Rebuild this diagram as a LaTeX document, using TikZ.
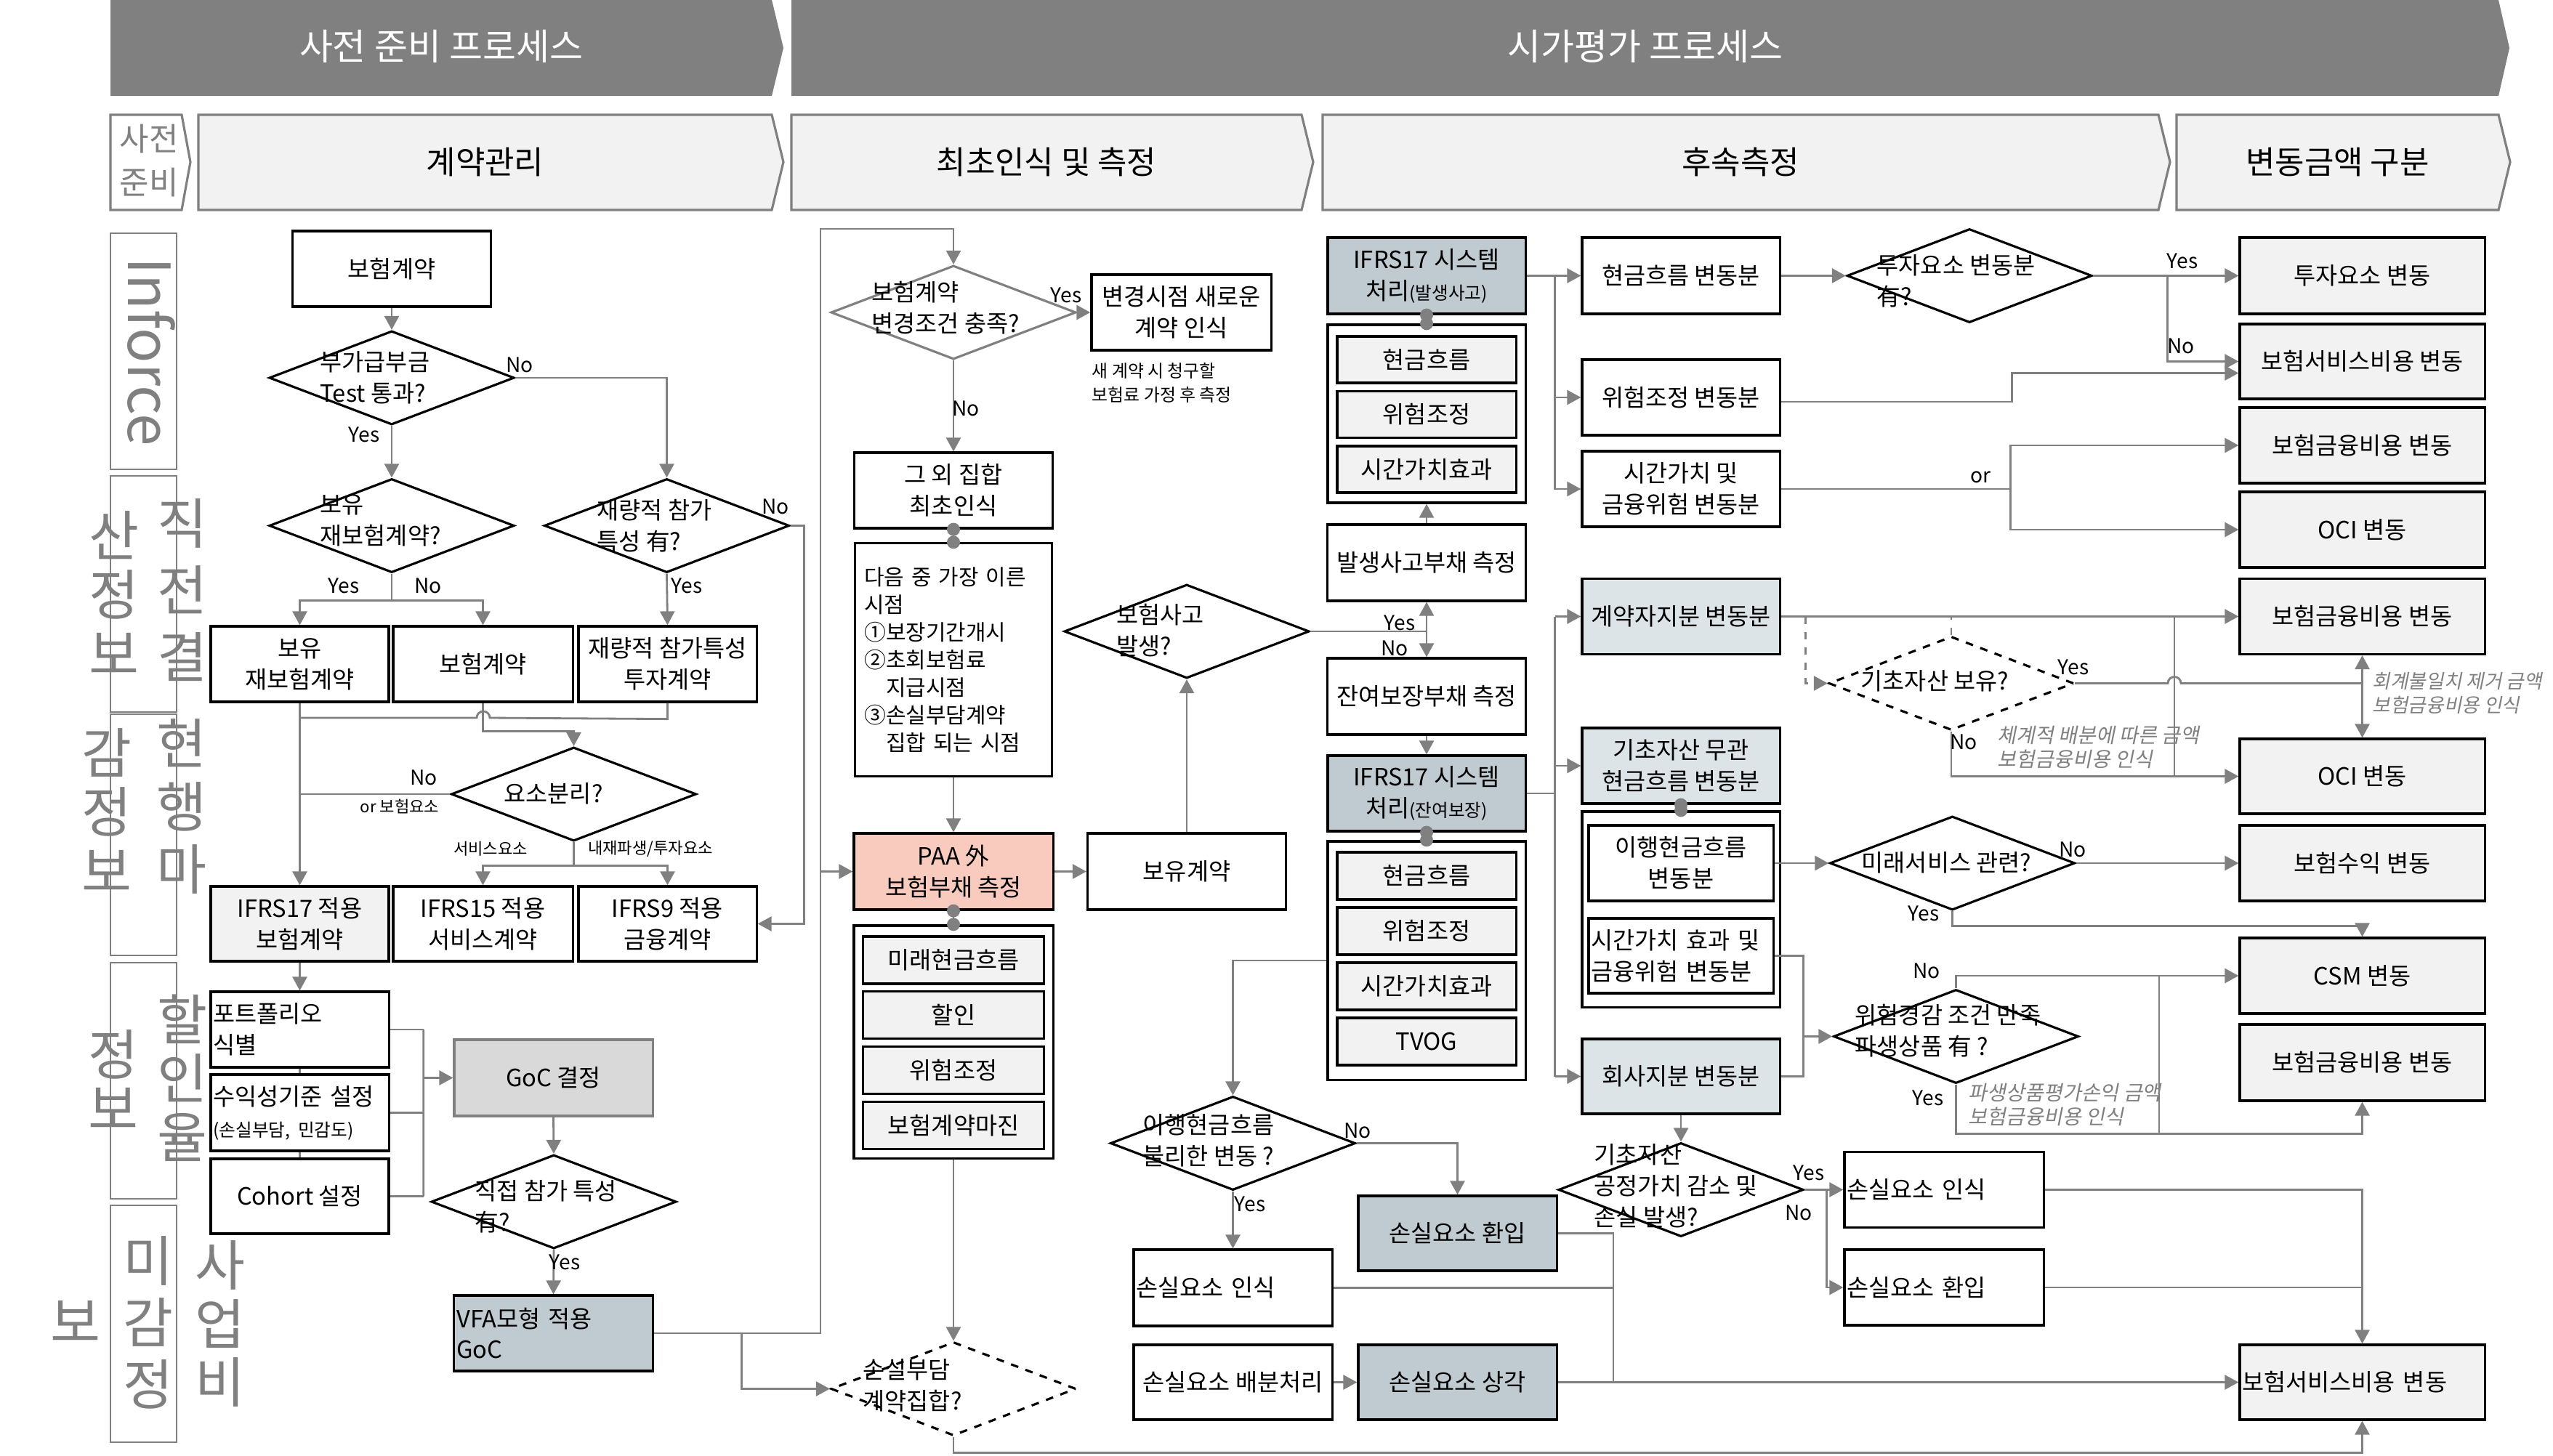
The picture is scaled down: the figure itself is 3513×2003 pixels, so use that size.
\documentclass[tikz,border=0pt]{standalone}
\usepackage{fontspec}
\setmainfont{Noto Sans CJK KR}
\newfontfamily\slkr[FakeSlant=0.2]{Noto Sans CJK KR}
\usetikzlibrary{shapes.geometric,arrows.meta,calc}
\definecolor{lnGray}{RGB}{128,128,128}
\definecolor{fillLt}{RGB}{242,242,242}
\definecolor{fillGoC}{RGB}{217,217,217}
\definecolor{fillBG}{RGB}{191,202,209}
\definecolor{fillLB}{RGB}{221,228,232}
\definecolor{fillPAA}{RGB}{248,203,190}
\newcommand{\fmain}{\fontsize{9.3pt}{12.2pt}\selectfont}
\newcommand{\fsml}{\fontsize{7pt}{9.2pt}\selectfont}
\newcommand{\flbl}{\fontsize{8pt}{9.4pt}\selectfont}
\newcommand{\ftiny}{\fontsize{6.3pt}{7pt}\selectfont}
\newcommand{\fhead}{\fontsize{12.5pt}{15pt}\selectfont}
\newcommand{\fbann}{\fontsize{14.2pt}{17pt}\selectfont}
\newcommand{\fbig}[1]{\fontsize{21.3pt}{#1}\selectfont}

\begin{document}
\begin{tikzpicture}[x=0.01cm, y=-0.01cm]
	\tikzstyle{box} = [draw=black, rectangle, line width=0.9pt, inner sep=1pt, align=center, font=\fmain];
	\tikzstyle{lbox} = [box, align=left, inner xsep=1pt];
	\tikzstyle{dec} = [draw=black, diamond, line width=0.9pt, inner sep=0pt, minimum width=3.37cm, minimum height=1.29cm];
	\tikzstyle{dtxt} = [align=left, inner sep=0pt, font=\fmain, anchor=west];
	\tikzstyle{conn} = [draw=lnGray, line width=0.8pt];
	\tikzstyle{arr} = [conn, -{Triangle[length=0.19cm,width=0.2cm]}];
	\tikzstyle{lbl} = [font=\flbl, inner sep=0pt];
	\tikzstyle{note} = [font=\slkr\flbl, text=lnGray, align=left, inner sep=0pt, anchor=west];
	\tikzstyle{side} = [draw=lnGray, line width=0.6pt];
	\tikzstyle{vt} = [text=lnGray, align=center, inner sep=0pt];
	\tikzstyle{hdr} = [draw=lnGray, fill=fillLt, line width=0.9pt];

	\useasboundingbox (0,0) rectangle (3513,2003);

	\fill[lnGray] (152,0) -- (1062,0) -- (1078,66) -- (1062,132) -- (152,132) -- cycle;
	\fill[lnGray] (1089,0) -- (3438,0) -- (3453,66) -- (3438,132) -- (1089,132) -- cycle;
	\node[font=\fbann, text=white] (bnPre) at (607,64) {사전 준비 프로세스};
	\node[font=\fbann, text=white] (bnFV) at (2264,64) {시가평가 프로세스};

	\draw[hdr, fill=white] (152,158) -- (250,158) -- (262,223) -- (250,289) -- (152,289) -- cycle;
	\node[vt, font=\fontsize{12.5pt}{17pt}\selectfont] (hPre) at (205,221) {사전\\준비};
	\foreach \xa/\xb/\nm/\txt in {273/1062/hCon/계약관리, 1089/1791/hInit/최초인식 및 측정, 1820/2970/hSub/후속측정, 2995/3438/hVar/변동금액 구분} {
		\draw[hdr] (\xa,158) -- (\xb,158) -- (\xb+16,223) -- (\xb,289) -- (\xa,289) -- cycle;
		\node[font=\fhead] (\nm) at ({(\xa+\xb)/2},223) {\txt};
	}

	\foreach \ya/\yb in {321/646, 655/980, 983/1315, 1325/1650, 1659/1985}
		\draw[side] (152,\ya) rectangle (243,\yb);
	\node[vt, rotate=-90, font=\fontsize{22.8pt}{24pt}\selectfont] (sInf) at (208,484) {Inforce};
	\node[vt, font=\fbig{26.2pt}] (sPrevA) at (251,812) {직\\전\\결};
	\node[vt, font=\fbig{23.3pt}] (sPrevB) at (157,816) {산\\정\\보};
	\node[vt, font=\fbig{24.5pt}] (sCurA) at (250,1110) {현\\행\\마};
	\node[vt, font=\fbig{23.3pt}] (sCurB) at (147,1115) {감\\정\\보};
	\node[vt, font=\fbig{23pt}] (sDisA) at (251,1484) {할\\인\\율};
	\node[vt, font=\fbig{21.6pt}] (sDisB) at (156,1486) {정\\보};
	\node[vt, font=\fbig{23pt}] (sExpA) at (303,1822) {사\\업\\비};
	\node[vt, font=\fbig{24.2pt}] (sExpB) at (204,1820) {미\\감\\정};
	\node[vt, font=\fbig{24pt}] (sExpC) at (104,1819) {보};

	\node[box, minimum width=2.73cm, minimum height=1.04cm] (nIns) at (539,370) {보험계약};
	\node[dec] (dTest) at (539,520) {};
	\node[dtxt] (tTest) at (440,520) {부가급부금\\Test 통과?};
	\node[dec] (dRe) at (539,723.5) {};
	\node[dtxt] (tRe) at (440,716) {보유\\재보험계약?};
	\node[dec] (dDpf) at (917.5,723.5) {};
	\node[dtxt] (tDpf) at (821,724) {재량적 참가\\특성 有?};
	\node[box, minimum width=2.45cm, minimum height=1.04cm] (nRe) at (412.5,914) {보유\\재보험계약};
	\node[box, minimum width=2.47cm, minimum height=1.04cm] (nIns2) at (664.5,914) {보험계약};
	\node[box, minimum width=2.45cm, minimum height=1.04cm] (nInv) at (918.5,914) {재량적 참가특성\\투자계약};
	\node[dec] (dSep) at (789.5,1093) {};
	\node[dtxt] (tSep) at (693,1092) {요소분리?};
	\node[box, fill=fillLt, minimum width=2.45cm, minimum height=1.03cm] (n17) at (412.5,1271.5) {IFRS17 적용\\보험계약};
	\node[box, minimum width=2.47cm, minimum height=1.03cm] (n15) at (664.5,1271.5) {IFRS15 적용\\서비스계약};
	\node[box, minimum width=2.45cm, minimum height=1.03cm] (n9) at (918.5,1271.5) {IFRS9 적용\\금융계약};
	\node[lbox, text width=2.38cm, minimum height=1.04cm] (nPort) at (412.5,1417) {포트폴리오\\식별};
	\node[lbox, text width=2.38cm, minimum height=1.05cm] (nProf) at (412.5,1531.5) {수익성기준 설정\\{\fsml(손실부담, 민감도)}};
	\node[box, minimum width=2.45cm, minimum height=1.03cm] (nCoh) at (412.5,1646.5) {Cohort 설정};
	\node[box, draw=lnGray, fill=fillGoC, minimum width=2.73cm, minimum height=1.05cm] (nGoC) at (761.5,1483.5) {GoC 결정};
	\node[dec] (dDir) at (762,1654) {};
	\node[dtxt] (tDir) at (653,1661) {직접 참가 특성\\有?};
	\node[lbox, fill=fillBG, text width=2.66cm, minimum height=1.04cm] (nVFA) at (761.5,1835) {VFA모형 적용\\GoC};

	\draw[arr] (nIns.south) -- (dTest.north);
	\draw[arr] (dTest.south) -- (dRe.north);
	\draw[arr] (dTest.east) -| (dDpf.north);
	\draw[conn] (dRe.south) -- ++(0,37) coordinate (cRe);
	\draw[arr] (cRe) -| (nRe.north);
	\draw[arr] (cRe) -| (nIns2.north);
	\draw[arr] (dDpf.south) -- (nInv.north);
	\draw[arr] (dDpf.east) -- ++(19,0) |- (n9.east);
	\draw[arr] (nRe.south) -- (n17.north);
	\draw[conn] (nInv.south) -- ++(0,22) -- (674,988) arc[start angle=0, end angle=-180, radius=9] -- (nRe.south |- 0,988);
	\draw[arr] (nIns2.south) -- ++(0,39) -| (dSep.north);
	\draw[conn] (dSep.west) -- (nRe.south |- dSep.west);
	\draw[conn] (dSep.south) -- ++(0,32) coordinate (cSep);
	\draw[arr] (cSep) -| (n15.north);
	\draw[arr] (cSep) -| (n9.north);
	\draw[arr] (n17.south) -- (nPort.north);
	\draw[conn] (nPort.south) -- (nProf.north);
	\draw[conn] (nProf.south) -- (nCoh.north);
	\draw[conn] (nPort.east) -- ++(46,0) coordinate (cB1);
	\draw[conn] (nProf.east) -- ++(46,0);
	\draw[conn] (nCoh.east) -- ++(46,0) coordinate (cB3);
	\draw[conn] (cB1) -- (cB3);
	\draw[arr] (cB1 |- nGoC.west) -- (nGoC.west);
	\draw[arr] (nGoC.south) -- (dDir.north);
	\draw[arr] (dDir.south) -- (nVFA.north);

	\node[dec, draw=lnGray] (dChg) at (1312,430) {};
	\node[dtxt] (tChg) at (1199,424) {보험계약\\변경조건 충족?};
	\node[box, minimum width=2.47cm, minimum height=1.04cm] (nNew) at (1625.5,430) {변경시점 새로운\\계약 인식};
	\node[align=left, inner sep=0pt, anchor=west, font=\fontsize{6.8pt}{9.4pt}\selectfont] (tNew) at (1502,527) {새 계약 시 청구할\\보험료 가정 후 측정};
	\node[box, minimum width=2.73cm, minimum height=1.04cm] (nOth) at (1312,675) {그 외 집합\\최초인식};
	\node[box, align=left, text width=2.45cm, inner xsep=0.13cm, minimum height=3.2cm, font=\fontsize{8.5pt}{10.8pt}\selectfont] (nWhen) at (1312,908) {다음 중 가장 이른\\시점\\①보장기간개시\\②초회보험료\\\phantom{②}지급시점\\③손실부담계약\\\phantom{③}집합 되는 시점};
	\node[box, fill=fillPAA, minimum width=2.74cm, minimum height=1.05cm] (nPAA) at (1312,1199.5) {PAA 外\\보험부채 측정};
	\node[box, minimum width=2.73cm, minimum height=1.05cm] (nHold) at (1633,1199.5) {보유계약};
	\node[dec] (dEvt) at (1633,869) {};
	\node[dtxt] (tEvt) at (1536,868) {보험사고\\발생?};
	\node[box, minimum width=2.74cm, minimum height=3.2cm] (gPAA) at (1312,1434) {};
	\foreach \t [count=\i] in {미래현금흐름, 할인, 위험조정, 보험계약마진}
		\node[box, fill=fillLt, minimum width=2.49cm, minimum height=0.65cm] (gPAA-\i) at (1312, {1321.5+75.7*(\i-1)}) {\t};
	\node[dec, dashed] (dOner) at (1312,1911.5) {};
	\node[dtxt] (tOner) at (1187,1907) {손실부담\\계약집합?};

	\coordinate (cLoop) at (1129,315);
	\draw[arr] (nVFA.east) -| (cLoop) -| (dChg.north);
	\draw[arr] (cLoop |- nPAA.west) -- (nPAA.west);
	\draw[arr] ($(nVFA.east)+(121,0)$) |- (dOner.west);
	\draw[arr] (dChg.east) -- (nNew.west);
	\draw[arr] (dChg.south) -- (nOth.north);
	\draw[conn] (nOth.south) -- (nWhen.north);
	\draw[arr] (nWhen.south) -- (nPAA.north);
	\draw[arr] (nPAA.east) -- (nHold.west);
	\draw[arr] (nHold.north) -- (dEvt.south);
	\draw[conn] (nPAA.south) -- (gPAA.north);
	\draw[arr] (gPAA.south) -- (dOner.north);

	\node[box, fill=fillBG, minimum width=2.72cm, minimum height=1.05cm] (nSysA) at (1963,379.5) {IFRS17 시스템\\처리{\fsml(발생사고)}};
	\node[box, minimum width=2.72cm, minimum height=2.45cm] (gSysA) at (1963,569.5) {};
	\foreach \t [count=\i] in {현금흐름, 위험조정, 시간가치효과}
		\node[box, fill=fillLt, minimum width=2.46cm, minimum height=0.64cm] (gSysA-\i) at (1963, {495+75.5*(\i-1)}) {\t};
	\node[box, minimum width=2.73cm, minimum height=1.05cm] (nLIC) at (1963,774.5) {발생사고부채 측정};
	\node[box, minimum width=2.73cm, minimum height=1.05cm] (nLRC) at (1963,958.5) {잔여보장부채 측정};
	\node[box, fill=fillBG, minimum width=2.72cm, minimum height=1.04cm] (nSysB) at (1963,1092) {IFRS17 시스템\\처리{\fsml(잔여보장)}};
	\node[box, minimum width=2.72cm, minimum height=3.28cm] (gSysB) at (1963,1322) {};
	\foreach \t [count=\i] in {현금흐름, 위험조정, 시간가치효과, TVOG}
		\node[box, fill=fillLt, minimum width=2.46cm, minimum height=0.65cm] (gSysB-\i) at (1963, {1205.5+76*(\i-1)}) {\t};
	\node[dec] (dFcf) at (1696.5,1573.5) {};
	\node[dtxt] (tFcf) at (1572,1570) {이행현금흐름\\불리한 변동 ?};
	\node[lbox, text width=2.66cm, minimum height=1.05cm] (nLcL) at (1696.5,1772.5) {손실요소 인식};
	\node[box, minimum width=2.73cm, minimum height=1.03cm] (nLcA) at (1696.5,1902.5) {손실요소 배분처리};
	\node[box, fill=fillBG, minimum width=2.73cm, minimum height=1.03cm] (nLcRev) at (2005.5,1697.5) {손실요소 환입};
	\node[box, fill=fillBG, minimum width=2.73cm, minimum height=1.03cm] (nLcAm) at (2005.5,1902.5) {손실요소 상각};

	\draw[arr] (nLIC.north) -- (gSysA.south);
	\draw[conn] (dEvt.east) -- (dEvt.east -| nLIC.south) coordinate (cEvt);
	\draw[arr] (cEvt) -- (nLIC.south);
	\draw[arr] (cEvt) -- (nLRC.north);
	\draw[arr] (nLRC.south) -- (nSysB.north);
	\draw[conn] (nSysA.south) -- (gSysA.north);
	\draw[conn] (nSysB.south) -- (gSysB.north);
	\draw[arr] (gSysB.west) -| (dFcf.north);
	\draw[arr] (dFcf.south) -- (nLcL.north);
	\draw[arr] (dFcf.east) -| (nLcRev.north);
	\draw[arr] (nLcA.east) -- (nLcAm.west);
	\coordinate (cLcD) at (2220,1902.5);
	\draw[conn] (nLcRev.east) -| (cLcD);
	\draw[conn] (nLcL.east) -- (nLcL.east -| cLcD);

	\node[box, minimum width=2.72cm, minimum height=1.05cm] (nCF) at (2313,379.5) {현금흐름 변동분};
	\node[box, minimum width=2.72cm, minimum height=1.04cm] (nRA) at (2313,547) {위험조정 변동분};
	\node[box, minimum width=2.72cm, minimum height=1.04cm] (nTV) at (2313,673) {시간가치 및\\금융위험 변동분};
	\node[box, fill=fillLB, minimum width=2.72cm, minimum height=1.04cm] (nPH) at (2313,848.5) {계약자지분 변동분};
	\node[box, fill=fillLB, minimum width=2.72cm, minimum height=1.04cm] (nUA) at (2313,1054) {기초자산 무관\\현금흐름 변동분};
	\node[box, minimum width=2.72cm, minimum height=2.69cm] (gUA) at (2313,1251.5) {};
	\node[box, minimum width=2.54cm, minimum height=1.04cm] (nFcfV) at (2313,1188) {이행현금흐름\\변동분};
	\node[lbox, text width=2.47cm, minimum height=1.03cm] (nTvF) at (2313,1315.5) {시간가치 효과 및\\금융위험 변동분};
	\node[box, fill=fillLB, minimum width=2.72cm, minimum height=1.03cm] (nCo) at (2313,1481.5) {회사지분 변동분};
	\node[dec] (dFV) at (2313,1637.5) {};
	\node[dtxt] (tFV) at (2193,1632) {기초자산\\공정가치 감소 및\\손실 발생?};
	\node[lbox, text width=2.67cm, minimum height=1.04cm] (nLcR) at (2675,1637.5) {손실요소 인식};
	\node[lbox, text width=2.67cm, minimum height=1.04cm] (nLcRR) at (2675,1772) {손실요소 환입};

	\draw[conn] (nSysA.east) -- ++(39,0) coordinate (cSA);
	\draw[arr] (cSA) -- (nCF.west);
	\draw[arr] (cSA) |- (nRA.west);
	\draw[arr] (cSA) |- (nTV.west);
	\draw[conn] (nSysB.east) -- ++(39,0) coordinate (cSB);
	\draw[conn] (cSB |- nPH.west) -- (cSB |- nCo.west);
	\draw[arr] (cSB |- nPH.west) -- (nPH.west);
	\draw[arr] (cSB |- nUA.west) -- (nUA.west);
	\draw[arr] (cSB |- nCo.west) -- (nCo.west);
	\draw[conn] (nUA.south) -- (gUA.north);
	\draw[conn] (nTvF.east) -- ++(40,0) coordinate (cTv) |- (nCo.east);
	\draw[arr] (nCo.south) -- (dFV.north);
	\draw[conn] (dFV.east) -- ++(30,0) coordinate (cFV);
	\draw[arr] (cFV) -- (nLcR.west);
	\draw[arr] (cFV) |- (nLcRR.west);

	\node[dec] (dInv) at (2710,379.5) {};
	\node[dtxt] (tInv) at (2582,387) {투자요소 변동분\\有?};
	\foreach \nm/\yc/\hh/\txt in {nInvV/379.5/1.05/투자요소 변동, nSvc1/497.5/1.03/보험서비스비용 변동, nFin1/613/1.04/보험금융비용 변동, nOCI1/729/1.04/OCI 변동, nFin2/848.5/1.04/보험금융비용 변동, nOCI2/1068.5/1.03/OCI 변동, nRev/1188/1.04/보험수익 변동, nCSM/1343/1.04/CSM 변동, nFin3/1462.5/1.05/보험금융비용 변동}
		\node[box, fill=fillLt, minimum width=3.37cm, minimum height=\hh cm] (\nm) at (3250.5,\yc) {\txt};
	\node[lbox, fill=fillLt, text width=3.30cm, minimum height=1.03cm] (nSvc2) at (3250.5,1902.5) {보험서비스비용 변동};
	\node[dec, dashed] (dUAh) at (2685,940.5) {};
	\node[dtxt] (tUAh) at (2560,937) {기초자산 보유?};
	\node[dec] (dFut) at (2686.5,1188) {};
	\node[dtxt] (tFut) at (2561,1187) {미래서비스 관련?};
	\node[dec] (dHedge) at (2691.5,1426.5) {};
	\node[dtxt] (tHedge) at (2552,1419) {위험경감 조건 만족\\파생상품 有 ?};

	\draw[arr] (nCF.east) -- (dInv.west);
	\draw[arr] (dInv.east) -- (nInvV.west);
	\draw[arr] ($(dInv.east)+(102,0)$) |- (nSvc1.west);
	\draw[arr] ($(nRA.east)+(0,6)$) -- ++(318,0) |- ($(nSvc1.west)+(0,16)$);
	\draw[conn] (nTV.east) -- ++(316,0) coordinate (cOr);
	\draw[arr] (cOr) |- (nFin1.west);
	\draw[arr] (cOr) |- (nOCI1.west);
	\draw[arr] (nPH.east) -- (nFin2.west);
	\draw[arr, dashed] ($(nPH.east)+(34,0)$) |- (dUAh.west);
	\draw[conn, dashed] (dUAh.north) -- (dUAh.north |- nPH.east);
	\draw[conn] (dUAh.east) -- (2983,940.5) arc[start angle=180, end angle=360, radius=9] -- (nFin2.south |- dUAh.east);
	\draw[conn, {Triangle[length=0.19cm,width=0.2cm]}-{Triangle[length=0.19cm,width=0.2cm]}] (nFin2.south) -- (nOCI2.north);
	\draw[conn] (nPH.east -| 2992,0) -- (nOCI2.west -| 2992,0);
	\draw[arr] (dUAh.south) |- (nOCI2.west);
	\draw[arr] (nFcfV.east) -- (dFut.west);
	\draw[arr] (cTv |- dHedge.west) -- (dHedge.west);
	\draw[arr] (dFut.east) -- (nRev.west);
	\draw[arr] (dFut.south) -- ++(0,20) -| (nCSM.north);
	\draw[arr] (dHedge.north) |- (nCSM.west);
	\draw[arr] (dHedge.south) -- ++(0,68) -| (nFin3.south);
	\draw[conn] (nCSM.west -| 2971,0) -- ++(0,216);
	\draw[arr] (nLcR.east) -| (nSvc2.north);
	\draw[conn] (nLcRR.east) -- (nLcRR.east -| nSvc2.north);
	\draw[arr] (nLcAm.east) -- (nSvc2.west);
	\draw[arr] (dOner.south) -- ++(0,22) -| (nSvc2.south);

	\foreach \p in {nOth.south, nWhen.north, nPAA.south, gPAA.north, nSysA.south, gSysA.north, nSysB.south, gSysB.north, nUA.south, gUA.north}
		\fill[lnGray] (\p) circle[radius=0.09cm];

	\foreach \x/\y/\t in {715/502/No, 501/598/Yes, 473/806/Yes, 589/806/No, 945/806/Yes, 1067/697/No, 583/1070/No, 777/1737/Yes, 1467/406/Yes, 1329/562/No, 1926/857/Yes, 1919/892/No, 1868/1556/No, 1720/1657/Yes, 3003/359/Yes, 3001/476/No, 2853/918/Yes, 2702/1021/No, 2852/1169/No, 2647/1257/Yes, 2651/1336/No, 2653/1511/Yes, 2489/1614/Yes, 2475/1669/No}
		\node[lbl] (lb-\x-\y) at (\x,\y) {\t};
	\node[lbl] (lbOrR) at (2725,657) {or};
	\node[lbl, font=\ftiny] (lbOr) at (550,1110) {or 보험요소};
	\node[lbl, font=\ftiny] (lbSvc) at (675,1168) {서비스요소};
	\node[lbl, font=\ftiny] (lbEmb) at (895,1168) {내재파생/투자요소};

	\node[note] (ntSys) at (2748,1028) {체계적 배분에 따른 금액\\보험금융비용 인식};
	\node[note, font=\slkr\fontsize{7.6pt}{9.4pt}\selectfont] (ntMis) at (3264,954) {회계불일치 제거 금액\\보험금융비용 인식};
	\node[note] (ntDer) at (2708,1520) {파생상품평가손익 금액\\보험금융비용 인식};
\end{tikzpicture}
\end{document}
